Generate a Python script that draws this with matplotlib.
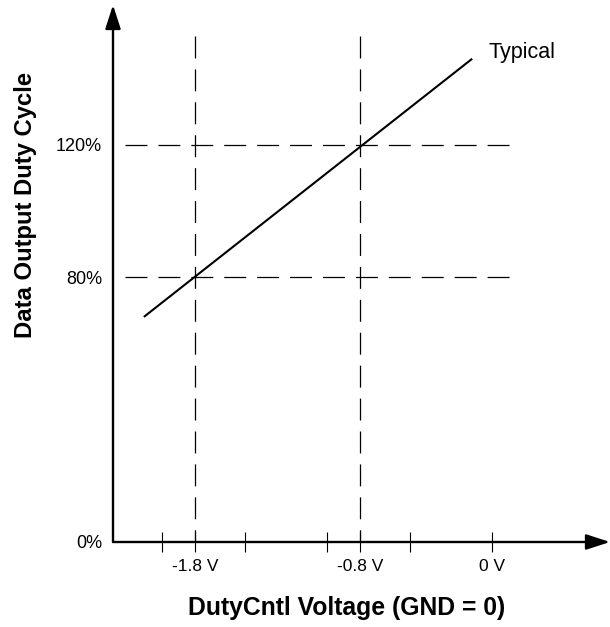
import matplotlib
matplotlib.use("Agg")
import matplotlib.pyplot as plt

plt.rcParams['font.family'] = ['Liberation Sans', 'DejaVu Sans']
plt.rcParams['lines.scale_dashes'] = False

# Data
typical_v = [-2.11, -0.12]
typical_duty = [68, 146]
ref_volts = [-1.8, -0.8]
ref_duty = [80, 120]
x_ticks = [-2.0, -1.8, -1.5, -1.0, -0.8, -0.5, 0.0]
x_ticklabels = ['', '-1.8 V', '', '', '-0.8 V', '', '0 V']
y_ticks = [0, 80, 120]
y_ticklabels = ['0%', '80%', '120%']

W, H = 610, 627
fig = plt.figure(figsize=(W / 100, H / 100), dpi=100)
x0, y0, x1, y1 = 113, 542, 610, 5
ax = fig.add_axes([x0 / W, (H - y0) / H, (x1 - x0) / W, (y0 - y1) / H])
pxv = 165.0
pxp = 3.31
xmin, xmax = (x0 - 492) / pxv, (x1 - 492) / pxv
ymax = (y0 - y1) / pxp
ax.set_xlim(xmin, xmax)
ax.set_ylim(0, ymax)
for s in ax.spines.values():
    s.set_visible(False)

dash = (0, (15.8, 7.9))
vtop = (y0 - 36) / pxp
hleft = (125 - 492) / pxv
hright = (510 - 492) / pxv
for v in ref_volts:
    ax.plot([v, v], [vtop, 0], color='black', lw=0.9, linestyle=dash, clip_on=False)
for d in ref_duty:
    ax.plot([hleft, hright], [d, d], color='black', lw=0.9, linestyle=dash, clip_on=False)

ax.plot(typical_v, typical_duty, color='black', lw=1.5, solid_capstyle='butt')
ax.text(typical_v[1] + 0.1, typical_duty[1] + 0.3, 'Typical', fontsize=15.5,
        ha='left', va='baseline')

ap = dict(arrowstyle='-|>,head_length=1.45,head_width=0.47', lw=1.7,
          color='black', mutation_scale=10, shrinkA=0, shrinkB=0)
ax.annotate('', xy=(xmax, 0), xytext=(xmin, 0), arrowprops=ap, annotation_clip=False)
ax.annotate('', xy=(xmin, ymax), xytext=(xmin, 0), arrowprops=ap, annotation_clip=False)

ax.set_xticks(x_ticks)
ax.set_xticklabels(x_ticklabels)
ax.tick_params(axis='x', direction='inout', length=14, width=0.8, pad=5.5,
               labelsize=12.5)
ax.set_yticks(y_ticks)
ax.set_yticklabels(y_ticklabels)
ax.tick_params(axis='y', length=0, pad=8, labelsize=13)

fig.text(347 / W, 1 - 608 / H, 'DutyCntl Voltage (GND = 0)', fontsize=17.8,
         fontweight='bold', ha='center', va='center')
fig.text(26 / W, 1 - 205 / H, 'Data Output Duty Cycle', fontsize=17.2,
         fontweight='bold', ha='center', va='center', rotation=90)

fig.savefig('out.png', dpi=100)
